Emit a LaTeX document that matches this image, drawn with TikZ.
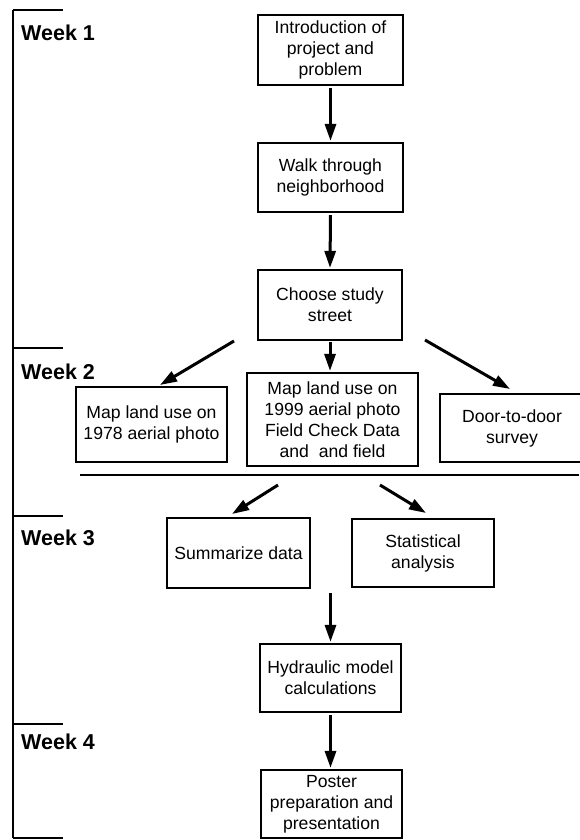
\documentclass[tikz,border=0pt]{standalone}
\usepackage{fontspec}
\setmainfont{Liberation Sans}
\usetikzlibrary{arrows.meta}
\begin{document}
\begin{tikzpicture}[x=1pt,y=-1pt,
  box/.style={draw, line width=2.2pt, inner sep=0pt, align=center,
    font=\fontsize{17.6}{21}\selectfont},
  arr/.style={line width=3pt, -{Triangle[length=17pt,width=11pt]}},
  week/.style={anchor=west, inner sep=0pt, font=\fontsize{21.5}{24}\selectfont\bfseries},
  rule/.style={line width=2.6pt},
  sep/.style={line width=1.3pt}]
\useasboundingbox[fill=white] (0,0) rectangle (579,840);
% left bracket
\coordinate (bt) at (13,10);
\coordinate (bb) at (13,838);
\draw[rule] (bt) -- (bb);
\coordinate (t0) at (63,10);
\coordinate (t1a) at (13,348);  \coordinate (t1b) at (63,348);
\coordinate (t2a) at (13,516);  \coordinate (t2b) at (63,516);
\coordinate (t3a) at (13,724);  \coordinate (t3b) at (63,724);
\coordinate (t4) at (63,838);
\draw[rule] (bt) -- (t0);
\draw[rule] (t1a) -- (t1b);
\draw[rule] (t2a) -- (t2b);
\draw[rule] (t3a) -- (t3b);
\draw[rule] (bb) -- (t4);
% week labels
\node[week] (w1) at (21,33) {Week 1};
\node[week] (w2) at (21,372) {Week 2};
\node[week] (w3) at (21,538) {Week 3};
\node[week] (w4) at (21,742) {Week 4};
% boxes
\node[box, minimum width=145pt, minimum height=70pt] (intro) at (330.5,50) {Introduction of\\project and\\problem};
\node[box, minimum width=145pt, minimum height=69pt] (walk) at (330.5,177.5) {Walk through\\neighborhood};
\node[box, minimum width=144pt, minimum height=70pt] (choose) at (330,305) {Choose study\\street};
\node[box, minimum width=151pt, minimum height=75pt] (m78) at (151.5,424.5) {Map land use on\\1978 aerial photo};
\node[box, minimum width=171pt, minimum height=93pt] (m99) at (332.5,419.5) {Map land use on\\1999 aerial photo\\Field Check Data\\and\ \ and field};
\node[box, minimum width=144pt, minimum height=68pt] (door) at (512,428) {Door-to-door\\survey};
\node[box, minimum width=143pt, minimum height=70pt] (summ) at (238.5,553) {Summarize data};
\node[box, minimum width=142pt, minimum height=68pt] (stat) at (423,553) {Statistical\\analysis};
\node[box, minimum width=141pt, minimum height=68pt] (hyd) at (330.5,678) {Hydraulic model\\calculations};
\node[box, minimum width=141pt, minimum height=68pt] (post) at (331.5,804) {Poster\\preparation and\\presentation};
% separator line
\coordinate (s1) at (80,475);
\coordinate (s2) at (579,475);
\draw[sep] (s1) -- (s2);
% arrows
\draw[arr, shorten <=2pt, shorten >=1pt] (intro.south) -- (walk.north);
\draw[arr, shorten <=2pt, shorten >=1pt] (walk.south) -- (choose.north);
\coordinate (a3s) at (234,341); \coordinate (a3e) at (160,385);
\draw[arr] (a3s) -- (a3e);
\draw[arr, shorten <=1pt, shorten >=1pt] (choose.south) -- (choose.south |- m99.north);
\coordinate (a5s) at (425,340); \coordinate (a5e) at (510,389);
\draw[arr] (a5s) -- (a5e);
\coordinate (a6s) at (278,485); \coordinate (a6e) at (232,514);
\draw[arr] (a6s) -- (a6e);
\coordinate (a7s) at (380,485); \coordinate (a7e) at (426,513);
\draw[arr] (a7s) -- (a7e);
\coordinate (a8s) at (330.5,593);
\draw[arr, shorten >=1pt] (a8s) -- (hyd.north);
\draw[arr, shorten <=2pt, shorten >=1pt] (hyd.south) -- (hyd.south |- post.north);
\end{tikzpicture}
\end{document}
